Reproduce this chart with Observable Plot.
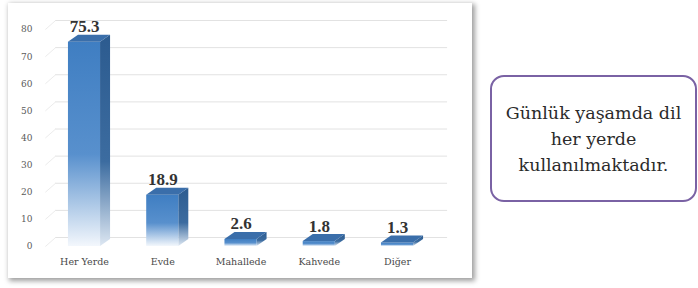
<!DOCTYPE html>
<html>
<head>
<meta charset="utf-8">
<script src="https://cdn.jsdelivr.net/npm/d3@7"></script>
<script src="https://cdn.jsdelivr.net/npm/@observablehq/plot@0.6"></script>
<style>
  html, body { margin: 0; padding: 0; background: #ffffff; width: 698px; height: 288px; overflow: hidden; }
  #panel { position: absolute; left: 8px; top: 3px; width: 464px; height: 275px; background: #fff;
           box-shadow: 2px 2px 5px 1px rgba(0,0,0,0.38); }
  #panel svg { display: block; }
  #note { position: absolute; left: 490px; top: 75px; width: 207px; height: 127px;
          border: 2.5px solid #7a62a4; border-radius: 14px; box-sizing: border-box;
          display: flex; align-items: center; justify-content: center; text-align: center;
          font-family: "DejaVu Serif", serif; font-size: 17.5px; line-height: 26px; color: #2b2b2b; }
</style>
</head>
<body>
<div id="panel"></div>
<div id="note"></div>
<script>
const categories = ["Her Yerde", "Evde", "Mahallede", "Kahvede", "Diğer"];
const values = [75.3, 18.9, 2.6, 1.8, 1.3];
const yTicks = [0, 10, 20, 30, 40, 50, 60, 70, 80];
const noteLines = ["Günlük yaşamda dil", "her yerde", "kullanılmaktadır."];

// geometry of the 3D bars (in scale units)
const halfW = 0.205;   // half width of the front face
const depthX = 0.128;  // horizontal depth
const depthY = 2.6;    // vertical depth

const bars = categories.map((c, i) => ({i, c, v: values[i]}));
const sides = bars.flatMap(b => [
  {bar: b.c, x: b.i + halfW, y1: 0, y2: b.v},
  {bar: b.c, x: b.i + halfW + depthX, y1: depthY, y2: b.v + depthY}
]);
const tops = bars.flatMap(b => [
  {bar: b.c, y: b.v, x1: b.i - halfW, x2: b.i + halfW},
  {bar: b.c, y: b.v + depthY, x1: b.i - halfW + depthX, x2: b.i + halfW + depthX}
]);

const chart = Plot.plot({
  width: 464,
  height: 275,
  marginTop: 26,
  marginBottom: 32,
  marginLeft: 30,
  marginRight: 20,
  style: {fontFamily: "'DejaVu Serif', serif", background: "transparent"},
  x: {domain: [0, 4], range: [76, 389]},
  y: {domain: [0, 80]},
  marks: [
    Plot.ruleY(yTicks, {y: d => d, x1: -0.37, x2: 4.64, dy: -9, stroke: "#e2e2e2", strokeWidth: 1}),
    Plot.link(yTicks, {x1: -0.5, y1: d => d, x2: -0.37, y2: d => d + 3.3, stroke: "#ececec", strokeWidth: 1}),
    Plot.axisY(yTicks, {anchor: "left", tickSize: 0, tickPadding: 6, fontSize: 9, fill: "#5a5a5a", label: null}),
    Plot.axisX([0, 1, 2, 3, 4], {anchor: "bottom", tickSize: 0, tickPadding: 12, fontSize: 9.5, fill: "#4a4a4a",
      tickFormat: i => categories[i], label: null}),
    Plot.areaY(sides, {x: "x", y1: "y1", y2: "y2", z: "bar", fill: "url(#gSide)", curve: "linear"}),
    Plot.rect(bars, {x1: d => d.i - halfW, x2: d => d.i + halfW, y1: 0, y2: "v", fill: "url(#gFront)"}),
    Plot.areaX(tops, {y: "y", x1: "x1", x2: "x2", z: "bar", fill: "#3a6eaa", curve: "linear"}),
    Plot.text(bars, {x: d => d.i, y: "v", text: d => d3.format(".1f")(d.v), dy: -10, lineAnchor: "bottom",
      fontSize: 17, fontWeight: "bold", fill: "#333333", fontFamily: "'Liberation Serif', serif"})
  ]
});

d3.select(chart).insert("defs", ":first-child").html(`
  <linearGradient id="gFront" x1="0" y1="0" x2="0" y2="1">
    <stop offset="0" stop-color="#3f7ec2"/>
    <stop offset="0.55" stop-color="#5890cd"/>
    <stop offset="1" stop-color="#f3f7fc"/>
  </linearGradient>
  <linearGradient id="gSide" x1="0" y1="0" x2="0" y2="1">
    <stop offset="0" stop-color="#2c5b8f"/>
    <stop offset="0.6" stop-color="#3c6ca0"/>
    <stop offset="1" stop-color="#dde7f2"/>
  </linearGradient>`);

document.getElementById("panel").appendChild(chart);
document.getElementById("note").innerHTML = noteLines.join("<br>");
</script>
</body>
</html>
